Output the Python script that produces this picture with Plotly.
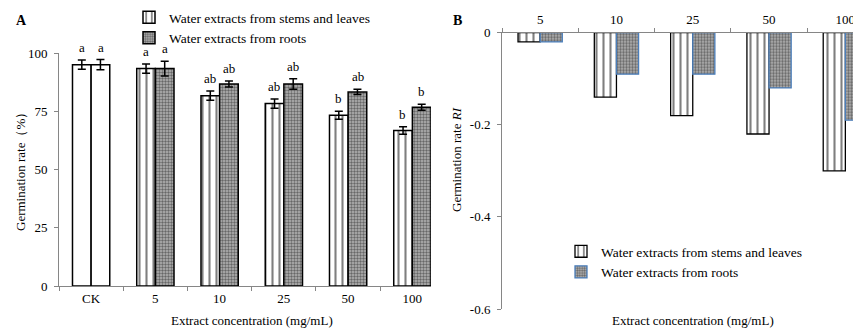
import plotly.graph_objects as go

# ---------------- data ----------------
cats_a = ["CK", "5", "10", "25", "50", "100"]
stems_rate = [95.0, 93.3, 81.7, 78.3, 73.3, 66.7]
stems_err = [2.0, 2.0, 2.0, 2.0, 1.7, 1.6]
roots_rate = [95.0, 93.3, 86.7, 86.7, 83.3, 76.7]
roots_err = [2.2, 3.2, 1.3, 2.3, 1.1, 1.3]
stems_letters = ["a", "a", "ab", "ab", "b", "b"]
roots_letters = ["a", "a", "ab", "ab", "ab", "b"]

cats_b = ["5", "10", "25", "50", "100"]
stems_ri = [-0.02, -0.14, -0.18, -0.22, -0.30]
roots_ri = [-0.02, -0.09, -0.09, -0.12, -0.19]

name_s = "Water extracts from stems and leaves"
name_r = "Water extracts from roots"

FONT = "Liberation Serif"
FS = 13
W, H = 861, 329
OFF = 8  # page body margin
AXC = "#868686"

def px(x):
    return (x - OFF) / W

def py(y):
    return (H - (y - OFF)) / H

stripe = dict(shape="|", fgcolor="black", bgcolor="white", size=7, solidity=0.3)
dots = dict(shape=".", fgcolor="#1a1a1a", bgcolor="#b5b5b5", size=3, solidity=0.5)

fig = go.Figure()

# ---------------- panel A ----------------
err = dict(type="data", thickness=1.5, width=4, color="black")
fig.add_trace(go.Bar(
    x=cats_a[1:], y=stems_rate[1:], name=name_s, offsetgroup="s",
    error_y=dict(array=stems_err[1:], **err),
    marker=dict(color="white", pattern=stripe, line=dict(color="black", width=1.5)),
    legend="legend", xaxis="x", yaxis="y"))
fig.add_trace(go.Bar(
    x=cats_a[1:], y=roots_rate[1:], name=name_r, offsetgroup="r",
    error_y=dict(array=roots_err[1:], **err),
    marker=dict(color="white", pattern=dots, line=dict(color="black", width=1.5)),
    legend="legend", xaxis="x", yaxis="y"))
fig.add_trace(go.Bar(
    x=cats_a[:1], y=stems_rate[:1], name=name_s, offsetgroup="s", showlegend=False,
    error_y=dict(array=stems_err[:1], **err),
    marker=dict(color="white", line=dict(color="black", width=1.5)),
    xaxis="x", yaxis="y"))
fig.add_trace(go.Bar(
    x=cats_a[:1], y=roots_rate[:1], name=name_r, offsetgroup="r", showlegend=False,
    error_y=dict(array=roots_err[:1], **err),
    marker=dict(color="white", line=dict(color="black", width=1.5)),
    xaxis="x", yaxis="y"))

# letters (category index positions)
for i in range(len(cats_a)):
    fig.add_annotation(x=i, y=stems_rate[i] + stems_err[i], text=stems_letters[i],
                       xref="x", yref="y", showarrow=False, xshift=-9.5, yshift=3,
                       xanchor="center", yanchor="bottom",
                       font=dict(family=FONT, size=FS, color="black"))
    fig.add_annotation(x=i, y=roots_rate[i] + roots_err[i], text=roots_letters[i],
                       xref="x", yref="y", showarrow=False, xshift=9.5, yshift=3,
                       xanchor="center", yanchor="bottom",
                       font=dict(family=FONT, size=FS, color="black"))

# ---------------- panel B ----------------
fig.add_trace(go.Bar(
    x=cats_b, y=stems_ri, name=name_s, offsetgroup="s2",
    marker=dict(color="white", pattern=stripe, line=dict(color="black", width=1.3)),
    legend="legend2", xaxis="x2", yaxis="y2"))
fig.add_trace(go.Bar(
    x=cats_b, y=roots_ri, name=name_r, offsetgroup="r2",
    marker=dict(color="white", pattern=dots, line=dict(color="#4a7ebb", width=1.3)),
    legend="legend2", xaxis="x2", yaxis="y2"))

tickfont = dict(family=FONT, size=FS, color="black")

fig.update_layout(
    width=W, height=H,
    margin=dict(l=0, r=0, t=0, b=0, autoexpand=False),
    paper_bgcolor="white", plot_bgcolor="white",
    barmode="group",
    font=dict(family=FONT, size=FS, color="black"),
    xaxis=dict(domain=[px(59), px(431)], type="category",
               categoryorder="array", categoryarray=cats_a,
               range=[-0.5, 5.29], showline=True, linecolor=AXC, linewidth=1,
               ticks="outside", tickson="boundaries", ticklen=4, tickcolor=AXC,
               tickfont=tickfont, showgrid=False, zeroline=False, anchor="y",
               automargin=False),
    yaxis=dict(domain=[py(286), py(53)], range=[0, 100], tickvals=[0, 25, 50, 75, 100],
               showline=True, linecolor=AXC, linewidth=1, ticks="outside", ticklen=4,
               tickcolor=AXC, tickfont=tickfont, showgrid=False, zeroline=False,
               ticklabelstandoff=4, anchor="x", automargin=False),
    xaxis2=dict(domain=[px(502), 1.0], type="category",
                categoryorder="array", categoryarray=cats_b,
                range=[-0.5, 4.31], side="top", showline=True, linecolor=AXC, linewidth=1,
                ticks="outside", tickson="boundaries", ticklen=4, tickcolor=AXC,
                tickfont=tickfont, showgrid=False, zeroline=False, anchor="y2",
                ticklabelstandoff=3, automargin=False),
    yaxis2=dict(domain=[py(309), py(32.7)], range=[-0.6, 0], tickvals=[-0.6, -0.4, -0.2, 0],
                ticktext=["-0.6", "-0.4", "-0.2", "0"],
                showline=True, linecolor=AXC, linewidth=1, ticks="outside", ticklen=4,
                tickcolor=AXC, tickfont=tickfont, showgrid=False, zeroline=False,
                ticklabelstandoff=4, anchor="x2", automargin=False),
    bargap=0.42,
    legend=dict(x=px(129), y=py(2), xanchor="left", yanchor="top",
                bgcolor="rgba(0,0,0,0)", font=dict(family=FONT, size=13.5),
                itemwidth=30, tracegroupgap=0),
    legend2=dict(x=px(561), y=py(236), xanchor="left", yanchor="top",
                 bgcolor="rgba(0,0,0,0)", font=dict(family=FONT, size=13.5),
                 itemwidth=30, tracegroupgap=0),
    showlegend=True,
)

ann_font = dict(family=FONT, size=FS, color="black")
common = dict(xref="paper", yref="paper", showarrow=False, xanchor="center", yanchor="middle")
# panel labels
fig.add_annotation(x=px(21), y=py(20), text="<b>A</b>",
                   font=dict(family=FONT, size=14, color="black"), **common)
fig.add_annotation(x=px(457), y=py(20), text="<b>B</b>",
                   font=dict(family=FONT, size=14, color="black"), **common)
# axis titles
fig.add_annotation(x=px(252), y=py(320.5), text="Extract concentration (mg/mL)",
                   font=ann_font, **common)
fig.add_annotation(x=px(693), y=py(320), text="Extract concentration (mg/mL)",
                   font=ann_font, **common)
fig.add_annotation(x=px(20), y=py(169), text="Germination rate（%）", textangle=-90,
                   font=ann_font, **common)
fig.add_annotation(x=px(457), y=py(160), text="Germination rate <i>RI</i>", textangle=-90,
                   font=ann_font, **common)

fig.write_html("out.html")
